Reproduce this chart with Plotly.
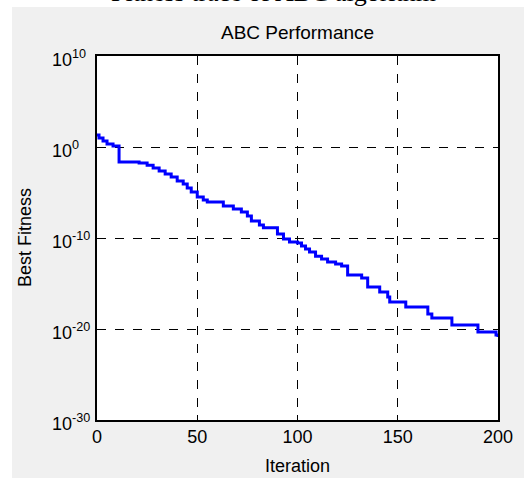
import plotly.graph_objects as go

# Data (iteration at which best fitness changes, value)
iterations = [0, 1, 3, 5, 8, 11, 21, 25, 28, 31, 34, 37, 40, 43, 45, 47, 50, 53, 55,
              63, 68, 72, 75, 77, 81, 83, 90, 93, 96, 100, 102, 104, 106, 109, 112,
              115, 119, 122, 125, 132, 135, 141, 145, 146, 154, 165, 167, 177, 190,
              199, 200]
best_fitness = [2.1e1, 9.8e0, 4.6e0, 2.1e0, 1.3e0, 2.2e-2, 1.7e-2, 1.0e-2, 4.9e-3,
                2.3e-3, 1.1e-3, 5.0e-4, 1.8e-4, 8.5e-5, 3.1e-5, 1.1e-5, 3.2e-6,
                1.5e-6, 9.1e-7, 3.3e-7, 1.5e-7, 7.2e-8, 2.6e-8, 7.4e-9, 2.7e-9,
                1.3e-9, 2.8e-10, 7.8e-11, 3.6e-11, 2.8e-11, 1.3e-11, 6.2e-12,
                2.9e-12, 1.0e-12, 4.9e-13, 2.3e-13, 1.4e-13, 8.3e-14, 8.5e-15,
                4.0e-15, 4.2e-16, 1.2e-16, 3.3e-17, 9.3e-18, 2.6e-18, 4.5e-19,
                1.6e-19, 2.8e-20, 4.7e-21, 2.2e-21, 1.3e-21]

x_ticks = [0, 50, 100, 150, 200]
y_exponents = [-30, -20, -10, 0, 10]
y_ticks = [10.0 ** e for e in y_exponents]
y_ticktext = ["10<sup>%d</sup>" % e for e in y_exponents]

fig = go.Figure()
fig.add_trace(go.Scatter(
    x=iterations, y=best_fitness, mode="lines",
    line=dict(color="#0000ff", width=3, shape="hv"),
    showlegend=False,
))

L, R, T, B = 97, 26, 56, 58
W, H = 524, 478
pw, ph = W - L - R, H - T - B


def px_x(px):
    return (px - L) / pw


def px_y(py):
    return (H - B - py) / ph


font = "Arial, Liberation Sans, sans-serif"
axis_common = dict(
    showline=True, linecolor="black", linewidth=1.5, mirror="ticks",
    ticks="inside", ticklen=5, tickcolor="black", automargin=False,
    showgrid=True, gridcolor="black", griddash="dash", gridwidth=1,
    zeroline=False, tickfont=dict(family=font, size=18, color="black"),
)

# y tick labels: MATLAB style, left-aligned "10" with superscript exponent
ytick_annotations = [
    dict(text=txt, xref="paper", yref="y", x=px_x(50), y=e, yshift=-2,
         xanchor="left", yanchor="middle", showarrow=False,
         font=dict(family=font, size=18, color="black"))
    for e, txt in zip(y_exponents, y_ticktext)
]

fig.update_layout(
    width=W, height=H, autosize=False,
    margin=dict(l=L, r=R, t=T, b=B, pad=0, autoexpand=False),
    paper_bgcolor="#f0f0f0", plot_bgcolor="white",
    xaxis=dict(range=[0, 200], tickvals=x_ticks,
               **axis_common),
    yaxis=dict(type="log", range=[-30, 10], tickvals=y_ticks, showticklabels=False,
               **axis_common),
    shapes=[
        dict(type="rect", xref="paper", yref="paper", x0=px_x(-5), x1=px_x(W + 5),
             y0=px_y(7), y1=px_y(-5), fillcolor="white", line=dict(width=0), layer="above"),
        dict(type="rect", xref="paper", yref="paper", x0=px_x(-5), x1=px_x(12),
             y0=px_y(H + 5), y1=px_y(-5), fillcolor="white", line=dict(width=0), layer="above"),
    ],
    annotations=ytick_annotations + [
        dict(text="ABC Performance", xref="paper", yref="paper", x=0.5, y=px_y(32),
             xanchor="center", yanchor="middle", showarrow=False,
             font=dict(family=font, size=19, color="black")),
        dict(text="Iteration", xref="paper", yref="paper", x=0.5, y=px_y(466),
             xanchor="center", yanchor="middle", showarrow=False,
             font=dict(family=font, size=18, color="black")),
        dict(text="Best Fitness", xref="paper", yref="paper", x=px_x(25), y=0.5,
             xanchor="center", yanchor="middle", textangle=-90, showarrow=False,
             font=dict(family=font, size=18, color="black")),
        dict(text="Fitness trace of ABC algorithm", xref="paper", yref="paper",
             x=px_x(273), y=px_y(9), xanchor="center", yanchor="bottom", showarrow=False,
             font=dict(family="Liberation Serif, Times New Roman, serif", size=26, color="black")),
    ],
)

fig.write_html("out.html", config={"displayModeBar": False},
               post_script="document.body.style.margin='0';document.body.style.overflow='hidden';")
